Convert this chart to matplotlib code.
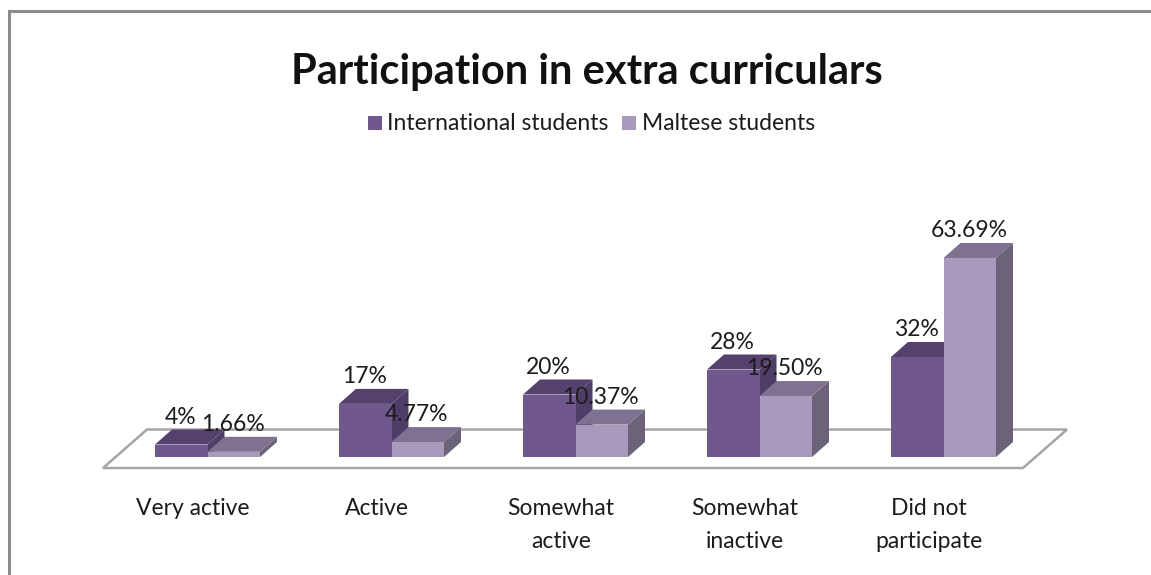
import matplotlib
matplotlib.use("Agg")
import matplotlib.pyplot as plt
from matplotlib.patches import Polygon, Rectangle

categories = ["Very active", "Active", "Somewhat\nactive", "Somewhat\ninactive", "Did not\nparticipate"]
international = [4, 17, 20, 28, 32]
maltese = [1.66, 4.77, 10.37, 19.50, 63.69]
international_labels = ["4%", "17%", "20%", "28%", "32%"]
maltese_labels = ["1.66%", "4.77%", "10.37%", "19.50%", "63.69%"]
title = "Participation in extra curriculars"
series_names = ["International students", "Maltese students"]

W, H = 1151, 575
PX_PER_CAT = 184.0
PX_PER_PCT = 3.125
X0_PX, Y0_PX = 207.5, 457.0
BAR_W = 52.5 / PX_PER_CAT
DX = 17 / PX_PER_CAT
DY = 15 / PX_PER_PCT
FONT = "Lato"
TEXT = "#1c1c1c"
LABEL_SIZE = 16.5

INT_COLORS = ("#70588f", "#54416e", "#4f3d69")
MAL_COLORS = ("#a99abd", "#7f7290", "#6c627a")

fig = plt.figure(figsize=(W / 100, H / 100), dpi=100)
ax = fig.add_axes([0, 0, 1, 1])
ax.set_xlim(-X0_PX / PX_PER_CAT, (W - X0_PX) / PX_PER_CAT)
ax.set_ylim((Y0_PX - H) / PX_PER_PCT, Y0_PX / PX_PER_PCT)
ax.axis("off")


def px(x, y):
    """Convert figure pixels (origin top-left) to data coordinates."""
    return (x - X0_PX) / PX_PER_CAT, (Y0_PX - y) / PX_PER_PCT


# Outer chart frame: only the left and top edges fall inside the canvas
frame = [px(8.5, H), px(8.5, 11), px(W, 11)]
ax.plot(*zip(*frame), color="#8c8c8c", lw=2.2, solid_joinstyle="miter", clip_on=False)

# Floor of the 3D plot
floor = [px(103, 468), px(147, 429.5), px(1067, 429.5), px(1023, 468)]
ax.add_patch(Polygon(floor, closed=True, fc="white", ec="#a6a6a6", lw=1.8, zorder=1))


def draw_bar(left, value, colors, z):
    right = left + BAR_W
    ax.add_patch(Polygon([(right, 0), (right + DX, DY), (right + DX, value + DY), (right, value)],
                         closed=True, fc=colors[2], ec="none", zorder=z))
    ax.add_patch(Polygon([(left, value), (left + DX, value + DY), (right + DX, value + DY), (right, value)],
                         closed=True, fc=colors[1], ec="none", zorder=z))
    ax.add_patch(Rectangle((left, 0), BAR_W, value, fc=colors[0], ec="none", zorder=z + 0.1))


for i in range(len(categories)):
    draw_bar(i - BAR_W, international[i], INT_COLORS, 2)
    draw_bar(i, maltese[i], MAL_COLORS, 3)
    ax.text(i - BAR_W + 0.5 * BAR_W - 0.005, international[i] + DY + 0.6, international_labels[i],
            ha="center", va="bottom", fontsize=LABEL_SIZE, family=FONT, color=TEXT, zorder=5)
    ax.text(i + 0.5 * BAR_W - 0.005, maltese[i] + DY + 0.6, maltese_labels[i],
            ha="center", va="bottom", fontsize=LABEL_SIZE, family=FONT, color=TEXT, zorder=5)
    ax.text(i - 0.08, -13.1, categories[i], ha="center", va="top", fontsize=LABEL_SIZE,
            family=FONT, color=TEXT, linespacing=1.7)

# Title and legend
ax.text(*px(587, 72), title, ha="center", va="center", fontsize=30, fontweight="bold",
        family=FONT, color="#111111")
ax.add_patch(Rectangle(px(368, 130), 14 / PX_PER_CAT, 14 / PX_PER_PCT, fc=INT_COLORS[0], ec="none"))
ax.text(*px(387, 123), series_names[0], ha="left", va="center", fontsize=LABEL_SIZE, family=FONT, color=TEXT)
ax.add_patch(Rectangle(px(622, 130), 14 / PX_PER_CAT, 14 / PX_PER_PCT, fc=MAL_COLORS[0], ec="none"))
ax.text(*px(642, 123), series_names[1], ha="left", va="center", fontsize=LABEL_SIZE, family=FONT, color=TEXT)

fig.savefig("out.png", dpi=100, facecolor="white")
